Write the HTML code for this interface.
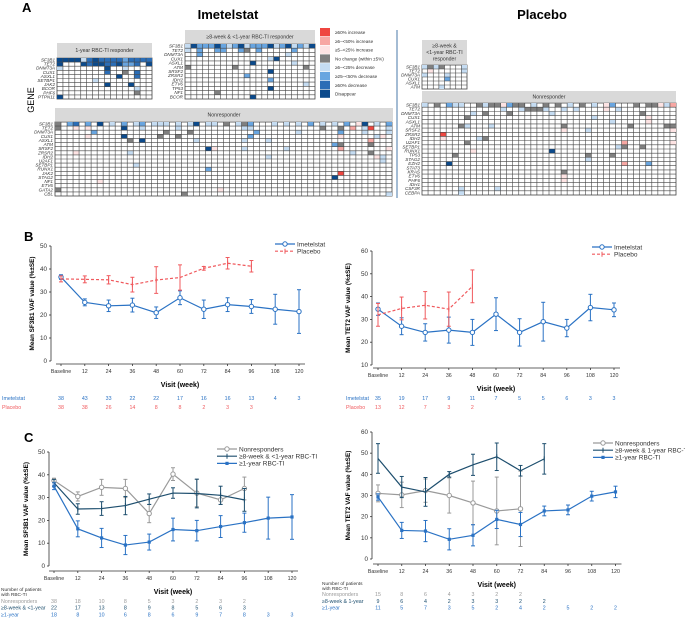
<!DOCTYPE html>
<html><head><meta charset="utf-8">
<style>
body{margin:0;background:#fff;}
svg{display:block;font-family:"Liberation Sans",Arial,sans-serif;}
</style></head>
<body>
<svg id="fig" width="685" height="619" viewBox="0 0 685 619" xmlns="http://www.w3.org/2000/svg">
<text x="22" y="12" font-size="13" font-weight="bold">A</text>
<text x="228" y="19" font-size="13" font-weight="bold" text-anchor="middle">Imetelstat</text>
<text x="542" y="19" font-size="13" font-weight="bold" text-anchor="middle">Placebo</text>
<text x="34" y="100" font-size="9" text-anchor="middle" transform="rotate(-90 34 100)">GENE</text>
<line x1="397" y1="30" x2="397" y2="198" stroke="#4a7aa8" stroke-width="1"/>
<text x="24" y="241" font-size="13" font-weight="bold">B</text>
<text x="24" y="442" font-size="13" font-weight="bold">C</text>
</svg>
<script>
// ---------- Heatmap data ----------
const legendLabels = ["≥50% increase","≥5–<50% increase","≥5–<25% increase","No change (within ±5%)","≥5–<25% decrease","≥25–<50% decrease","≥50% decrease","Disappear"];
const legendCodes = ["X","R","r","G","L","M","B","D"];
const g1Genes = ["SF3B1","TET2","DNMT3A","CUX1","ASXL1","SETBP1","JAK2","BCOR","PHF6","PTPN11"];
const g1Rows = ["DDDDLBDBBBBMBBBB","D...DBDDBBDMMB.D","L.......D..L....","........B..G.B..","..........D..B..","......L.........","........D...D...",".............L..",".............G..","D..............."];
const g2Genes = ["SF3B1","TET2","DNMT3A","CUX1","ASXL1","ATM","SRSF2","ZRSR2","IDH2","ETV6","TP53","NF1","BCOR"];
const g2Rows = ["LDMMMDMLMDLMMMDLMDLMLD","L.M..MM..MG.M.....M...","..M..............L....","..............LD......","...........D......L...","G.......G...........G.","..............D.......","..........M...........","..............M.......","....................L.","..............D.......",".....G................","...........D.........."];
const g3Genes = ["SF3B1","TET2","DNMT3A","CUX1","ASXL1","ATM","SRSF2","ZRSR2","IDH2","U2AF1","SETBP1","RUNX1","JAK2","STAG2","NF1","ETV6","GATA2","CBL"];
const g3Cells = ["0:G 2:M 3:B 5:M 7:D 9:L 11:M 13:L 14:M 16:L 17:L 18:L 20:L 22:L 23:D 25:L 26:L 28:G 30:L 31:G 32:M 36:L 38:L 40:L 42:M 44:L 46:L 48:M 50:r 51:D 53:L 55:M 56:L",
"0:G 3:r 5:r 11:D 14:L 20:L 31:L 32:L 44:G 47:G 49:R 51:L 52:X 55:L",
"6:M 18:G 22:G 33:M 40:L 47:M 51:L 55:L",
"5:r 11:D 17:G 20:G 32:M 47:r 53:L 54:r",
"12:G 14:D 23:L 31:L 35:L 52:R",
"46:M 47:G 52:G",
"25:D 26:r 31:L 38:L 47:R 55:r",
"3:r 12:L 49:L 52:G",
"35:L 53:r 54:L","54:L","13:L","25:M","47:X","46:D","7:r","","0:G 27:r","21:G 55:L"];
const p1Genes = ["SF3B1","TET2","DNMT3A","CUX1","ASXL1","ATM"];
const p1Rows = ["LGLG...L",".r.....L","L...L...","....M...","........","...L...."];
const p2Genes = ["SF3B1","TET2","DNMT3A","CUX1","ASXL1","ATM","SRSF2","ZRSR2","IDH2","U2AF1","SETBP1","RUNX1","TP53","STAG2","EZH2","STAT3","KRAS","ETV6","PHF6","IDH1","CSF3R","CEBPA"];
const p2Cells = ["0:L 2:G 4:M 5:L 6:L 9:G 10:L 11:G 12:G 13:r 14:M 15:G 16:G 18:L 20:G 22:G 24:L 26:G 28:L 30:r 31:M 35:G 37:G 38:G 39:r 40:L 41:R",
"13:L 16:L 17:G 18:G 19:G 20:L 23:L 25:L 30:r 32:L",
"8:L 10:G 14:G 21:L 36:G",
"7:G 28:L 37:r",
"31:L 37:r",
"6:G 7:L 11:L 23:G 34:G 40:G 41:G",
"23:r 27:L 41:r",
"3:X","3:r 9:L 10:G",
"7:G 33:R 41:r","32:L 33:G 36:G",
"8:r 21:D","5:G 27:G 31:G","27:L","4:D 33:R 37:M","","23:G","23:G 23:r","23:r","","12:L 6:L","6:L"];

// ---------- Chart data ----------
const visits = ["Baseline","12","24","36","48","60","72","84","96","108","120"];
const bImeMean = [36.5,25.5,24,24.3,21,27.5,22.5,24.5,23.7,22.5,21.5];
const bImeErr  = [1,1.5,2.5,3,2.5,3,4,3,3,6.5,9.5];
const bPlaMean = [35.7,35.5,35.3,33.2,35.2,36.3,40.3,42.5,41.2];
const bPlaErr  = [1.3,1.5,1.8,3.2,5.8,5.5,0.8,2.5,2.5];
const bImeN = ["38","43","33","22","22","17","16","16","13","4","3"];
const bPlaN = ["38","38","26","14","8","8","2","3","3"];
const b2ImeMean = [34.5,27,24.3,25.3,24.3,32.3,24.3,29,26.2,35.2,34.2];
const b2ImeErr  = [2.7,3.7,3.8,5.7,5.7,7.2,6,8.5,3.8,5.8,3];
const b2PlaMean = [32,34.8,36.2,34.5,44.5];
const b2PlaErr  = [5,5,6,7.5,7.2];
const b2ImeN = ["35","19","17","9","11","7","5","5","6","3","3"];
const b2PlaN = ["13","12","7","3","2"];
const cNonMean = [37.5,30.5,34.5,34,23,40.3,32,29,34];
const cNonErr  = [1,2,3.5,4,4,2.8,6,2,5];
const cMidMean = [36.5,25,25.2,26.5,29.3,32,31.8,31,29];
const cMidErr  = [1.5,2.3,3,4,2.3,2.3,6.3,4,5];
const cYrMean  = [35,16.3,12.3,9.2,10.5,16,15.5,17.3,19,21,21.5];
const cYrErr   = [1.5,3.5,4.2,4.2,3.5,5,4.5,4.8,4.2,9.2,9.8];
const cNonN = ["38","18","10","8","5","3","2","3","2"];
const cMidN = ["22","17","13","8","9","8","5","6","3"];
const cYrN  = ["18","8","10","6","8","6","9","7","8","3","3"];
const c2NonMean = [31,30.3,32.3,30,26.5,22.7,23.7];
const c2NonErr  = [4,6,5.5,8.3,10.3,16,17.8];
const c2MidMean = [47.5,34,31.7,40,44.5,48.3,41.7,47.3];
const c2MidErr  = [7,5,6.8,1.3,5,6.5,2.5,7.2];
const c2YrMean  = [29.3,13.5,13.2,9.3,11.2,18.7,16.3,22.7,23.2,29.7,31.7];
const c2YrErr   = [1.5,3.8,5,5,5,4.3,5.7,2.3,2.3,2.3,2.7];
const c2NonN = ["15","8","6","4","3","2","2"];
const c2MidN = ["9","6","4","2","3","3","2","2"];
const c2YrN  = ["11","5","7","3","5","2","4","2","5","2","2"];

const NS="http://www.w3.org/2000/svg";
const svg=document.getElementById('fig');
function mk(tag,attrs,name,parent){
  const el=document.createElementNS(NS,tag);
  for(const k in attrs) el.setAttribute(k,attrs[k]);
  
  
  (parent||svg).appendChild(el);
  return el;
}
function txt(x,y,s,size,name,opt){
  const t=mk('text',Object.assign({x:x,y:y,'font-size':size},opt||{}),name);
  t.textContent=s;return t;
}
const colorOf={X:"#ef4640",R:"#f7a7a3",r:"#fde3e3",G:"#7f7f7f",L:"#c5dcf2",M:"#68a5e0",B:"#2b6db6",D:"#0b4a8c"};

function grid(x,y,w,h,genes,ncols,getCode,name){
  const g=mk('g',{},name);
  const cw=w/ncols,ch=h/genes.length;
  mk('rect',{x:x,y:y,width:w,height:h,fill:"#fff",stroke:"#444","stroke-width":0.8},name+'-frame',g);
  for(let r=0;r<genes.length;r++){
    for(let c=0;c<ncols;c++){
      const code=getCode(r,c);
      if(code&&colorOf[code]) mk('rect',{x:x+c*cw,y:y+r*ch,width:cw,height:ch,fill:colorOf[code]},'heatmap-cell',g);
    }
    const t=mk('text',{x:x-2,y:y+r*ch+ch*0.85,'font-size':4.6,'text-anchor':'end','font-style':'italic',fill:'#333'},'gene-label',g);
    t.textContent=genes[r];
  }
  for(let c=1;c<ncols;c++) mk('line',{x1:x+c*cw,y1:y,x2:x+c*cw,y2:y+h,stroke:"#444","stroke-width":0.6},'grid-line',g);
  for(let r=1;r<genes.length;r++) mk('line',{x1:x,y1:y+r*ch,x2:x+w,y2:y+r*ch,stroke:"#444","stroke-width":0.6},'grid-line',g);
}
function header(x,y,w,h,lines,name){
  mk('rect',{x:x,y:y,width:w,height:h,fill:"#d9d9d9"},name+'-bg');
  lines.forEach((s,i)=>txt(x+w/2,y+h/2+2+(i-(lines.length-1)/2)*6.5,s,5.2,name,{'text-anchor':'middle',fill:'#333'}));
}
function sparse(list){return list.map(s=>{const m={};s.split(' ').filter(Boolean).forEach(p=>{const [c,v]=p.split(':');m[+c]=v;});return m;});}

header(57,43,95,14,["1-year RBC-TI responder"],'g1-header');
grid(57,58,95,41,g1Genes,16,(r,c)=>g1Rows[r][c],'g1-heatmap');
header(185,30,130,13,["≥8-week & <1-year RBC-TI responder"],'g2-header');
grid(185,44,130,55,g2Genes,22,(r,c)=>g2Rows[r][c],'g2-heatmap');
header(55,108,338,13,["Nonresponder"],'g3-header');
const g3m=sparse(g3Cells);
grid(55,122,337,74,g3Genes,56,(r,c)=>g3m[r][c],'g3-heatmap');
header(422,40,45,24,["≥8-week &","<1-year RBC-TI","responder"],'p1-header');
grid(422,65,45,24,p1Genes,8,(r,c)=>p1Rows[r][c],'p1-heatmap');
header(422,91,254,11,["Nonresponder"],'p2-header');
const p2m=sparse(p2Cells);
grid(422,103,254,92,p2Genes,42,(r,c)=>p2m[r][c],'p2-heatmap');
legendCodes.forEach((c,i)=>{
  mk('rect',{x:320,y:28+i*8.8,width:10,height:8.2,fill:colorOf[c]},'legend-swatch');
  txt(335,34+i*8.8,legendLabels[i],4.6,'legend-label',{fill:'#333'});
});

// ---------- line charts ----------
function chart(o){
  const xS=i=>o.x0+i*o.step;
  const yS=v=>o.pb+(v-o.vmin)*(o.pt-o.pb)/(o.vmax-o.vmin);
  mk('line',{x1:o.ax,y1:yS(o.vmax),x2:o.ax,y2:yS(o.vmin),stroke:'#333','stroke-width':0.8},'y-axis');
  for(let v=o.vmin;v<=o.vmax;v+=10){
    mk('line',{x1:o.ax-2,y1:yS(v),x2:o.ax,y2:yS(v),stroke:'#333','stroke-width':0.8},'y-tick');
    txt(o.ax-4,yS(v)+2,String(v),6.3,'y-tick-label',{'text-anchor':'end',fill:'#333'});
  }
  mk('line',{x1:o.x0-5,y1:o.xay,x2:xS(10)+6,y2:o.xay,stroke:'#333','stroke-width':0.8},'x-axis');
  visits.forEach((s,i)=>{
    mk('line',{x1:xS(i),y1:o.xay,x2:xS(i),y2:o.xay+2,stroke:'#333','stroke-width':0.8},'x-tick');
    txt(xS(i),o.xay+9,s,5.3,'x-tick-label',{'text-anchor':'middle',fill:'#333'});
  });
  txt(o.ytx,(yS(o.vmin)+yS(o.vmax))/2,o.ytitle,6.4,'y-axis-title',{'text-anchor':'middle','font-weight':'bold',transform:`rotate(-90 ${o.ytx} ${(yS(o.vmin)+yS(o.vmax))/2})`});
  txt((o.x0+xS(10))/2,o.xay+23,"Visit (week)",7,'x-axis-title',{'text-anchor':'middle','font-weight':'bold'});
  o.series.forEach(s=>{
    const pts=s.mean.map((m,i)=>xS(i)+','+yS(m)).join(' ');
    mk('polyline',{points:pts,fill:'none',stroke:s.color,'stroke-width':1.2,'stroke-dasharray':s.dash||''},'series-line-'+s.key);
    s.mean.forEach((m,i)=>{
      const e=s.err[i],x=xS(i);
      mk('line',{x1:x,y1:yS(m-e),x2:x,y2:yS(m+e),stroke:s.ecolor,'stroke-width':1},'error-bar');
      mk('line',{x1:x-2,y1:yS(m-e),x2:x+2,y2:yS(m-e),stroke:s.ecolor,'stroke-width':1},'error-cap');
      mk('line',{x1:x-2,y1:yS(m+e),x2:x+2,y2:yS(m+e),stroke:s.ecolor,'stroke-width':1},'error-cap');
      marker(s.marker,x,yS(m),s.color,'point-'+s.key);
    });
  });
  o.series.forEach((s,i)=>{
    const ly=o.ly+i*7.2;
    mk('line',{x1:o.lx,y1:ly,x2:o.lx+20,y2:ly,stroke:s.color,'stroke-width':1.2,'stroke-dasharray':s.dash||''},'legend-line');
    marker(s.marker,o.lx+10,ly,s.color,'legend-marker');
    txt(o.lx+22,ly+2.3,s.label,6.5,'legend-entry',{fill:'#333'});
  });
  o.counts.forEach((c,j)=>{
    txt(o.cLabX,o.cy+j*o.cdy,c.label,5.3,'count-row-label',{fill:c.color});
    c.vals.forEach((v,i)=>txt(xS(i),o.cy+j*o.cdy,v,5.3,'count-value',{'text-anchor':'middle',fill:c.color}));
  });
}
function marker(type,x,y,c,name){
  if(type==='circle') mk('circle',{cx:x,cy:y,r:2.2,fill:'#fff',stroke:c,'stroke-width':1},name);
  else if(type==='plus'){mk('line',{x1:x,y1:y-2.5,x2:x,y2:y+2.5,stroke:c,'stroke-width':1},name);}
  else if(type==='sq') mk('rect',{x:x-1.6,y:y-1.6,width:3.2,height:3.2,fill:c},name);
}
const BLUE="#2a72c4",RED="#f05a5e",DARK="#1d4e6e",GRAY="#9a9a9a";
chart({x0:61,step:23.8,ax:51,xay:364,vmin:0,vmax:50,pb:361,pt:246,ytx:34,ytitle:"Mean SF3B1 VAF value (%±SE)",lx:275,ly:244,
 series:[{key:'imetelstat',label:'Imetelstat',mean:bImeMean,err:bImeErr,color:BLUE,ecolor:BLUE,marker:'circle'},
         {key:'placebo',label:'Placebo',mean:bPlaMean,err:bPlaErr,color:RED,ecolor:RED,marker:'plus',dash:'3,2'}],
 cLabX:2,cy:400,cdy:9,counts:[{label:'Imetelstat',vals:bImeN,color:BLUE},{label:'Placebo',vals:bPlaN,color:RED}]});
chart({x0:378,step:23.6,ax:372,xay:368,vmin:10,vmax:60,pb:365,pt:251,ytx:350,ytitle:"Mean TET2 VAF value (%±SE)",lx:592,ly:247,
 series:[{key:'imetelstat-tet2',label:'Imetelstat',mean:b2ImeMean,err:b2ImeErr,color:BLUE,ecolor:BLUE,marker:'circle'},
         {key:'placebo-tet2',label:'Placebo',mean:b2PlaMean,err:b2PlaErr,color:RED,ecolor:RED,marker:'plus',dash:'3,2'}],
 cLabX:346,cy:400,cdy:9,counts:[{label:'Imetelstat',vals:b2ImeN,color:BLUE},{label:'Placebo',vals:b2PlaN,color:RED}]});
chart({x0:54,step:23.8,ax:49,xay:571,vmin:0,vmax:50,pb:566,pt:452,ytx:28,ytitle:"Mean SF3B1 VAF value (%±SE)",lx:217,ly:449,
 series:[{key:'nonresponders',label:'Nonresponders',mean:cNonMean,err:cNonErr,color:GRAY,ecolor:GRAY,marker:'circle'},
         {key:'mid',label:'≥8-week & <1-year RBC-TI',mean:cMidMean,err:cMidErr,color:DARK,ecolor:DARK,marker:'plus'},
         {key:'year',label:'≥1-year RBC-TI',mean:cYrMean,err:cYrErr,color:BLUE,ecolor:BLUE,marker:'sq'}],
 cLabX:1,cy:603,cdy:6.7,counts:[{label:'Nonresponders',vals:cNonN,color:GRAY},{label:'≥8-week & <1-year',vals:cMidN,color:DARK},{label:'≥1-year',vals:cYrN,color:BLUE}]});
chart({x0:378,step:23.75,ax:372,xay:564,vmin:0,vmax:60,pb:559,pt:432,ytx:350,ytitle:"Mean TET2 VAF value (%±SE)",lx:593,ly:443,
 series:[{key:'nonresponders-tet2',label:'Nonresponders',mean:c2NonMean,err:c2NonErr,color:GRAY,ecolor:GRAY,marker:'circle'},
         {key:'mid-tet2',label:'≥8-week & 1-year RBC-TI',mean:c2MidMean,err:c2MidErr,color:DARK,ecolor:DARK,marker:'plus'},
         {key:'year-tet2',label:'≥1-year RBC-TI',mean:c2YrMean,err:c2YrErr,color:BLUE,ecolor:BLUE,marker:'sq'}],
 cLabX:322,cy:596,cdy:6.8,counts:[{label:'Nonresponders',vals:c2NonN,color:GRAY},{label:'≥8-week & 1-year',vals:c2MidN,color:DARK},{label:'≥1-year',vals:c2YrN,color:BLUE}]});
txt(1,591,"Number of patients",4.8,'count-table-title',{fill:'#333'});
txt(1,596,"with RBC-TI",4.8,'count-table-title',{fill:'#333'});
txt(322,585,"Number of patients",4.8,'count-table-title',{fill:'#333'});
txt(322,590,"with RBC-TI",4.8,'count-table-title',{fill:'#333'});
</script>
</body></html>
